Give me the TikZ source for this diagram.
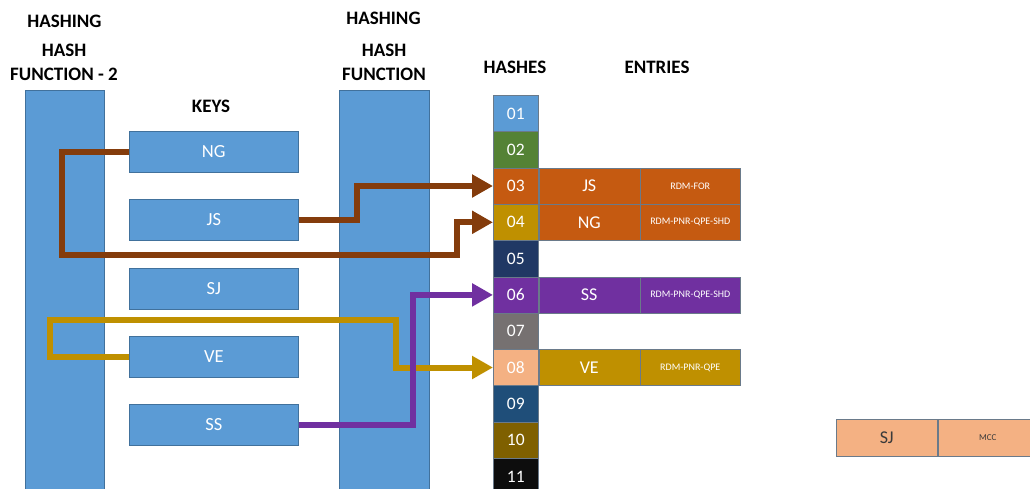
\documentclass[tikz,border=0pt]{standalone}
\usepackage{fontspec}
\setmainfont{Carlito}
\usetikzlibrary{arrows.meta}

\definecolor{boxblue}{HTML}{5B9BD5}
\definecolor{edgeblue}{HTML}{41719C}
\definecolor{cellgreen}{HTML}{548235}
\definecolor{cellorange}{HTML}{C55A11}
\definecolor{cellgold}{HTML}{BF9000}
\definecolor{cellnavy}{HTML}{203864}
\definecolor{cellpurple}{HTML}{7030A0}
\definecolor{cellgray}{HTML}{767171}
\definecolor{cellpeach}{HTML}{F4B183}
\definecolor{cellsteel}{HTML}{1F4E79}
\definecolor{cellolive}{HTML}{7F6000}
\definecolor{cellblack}{HTML}{0D0D0D}
\definecolor{linkbrown}{HTML}{843C0C}
\definecolor{gridline}{HTML}{6A7A8A}
\definecolor{darktext}{HTML}{3A3A3A}

\tikzset{
  title/.style={font=\fontsize{19}{22}\selectfont\bfseries, anchor=base, inner sep=0pt},
  column/.style={draw=edgeblue, line width=0.6pt, fill=boxblue, anchor=north west,
    inner sep=0pt, minimum width=#1},
  keybox/.style={draw=edgeblue, line width=0.6pt, fill=boxblue, anchor=north west,
    inner sep=0pt, minimum width=169pt, minimum height=41pt, text=white,
    font=\fontsize{18.5}{20}\selectfont},
  hcell/.style={draw=gridline, line width=0.5pt, fill=#1, anchor=north west,
    inner sep=0pt, minimum width=45pt, minimum height=36.3pt, text=white,
    font=\fontsize{17.5}{19}\selectfont},
  ecell/.style={draw=gridline, line width=0.5pt, fill=#1, anchor=north west,
    inner sep=0pt, minimum width=101pt, minimum height=36.3pt, text=white,
    font=\fontsize{18}{20}\selectfont},
  einfo/.style={draw=gridline, line width=0.5pt, fill=#1, anchor=north west,
    inner sep=0pt, minimum width=100pt, minimum height=36.3pt, text=white,
    font=\fontsize{10}{12}\selectfont},
  link/.style={line width=6pt, draw=#1, line join=miter,
    -{Triangle[length=21pt,width=22pt]}},
}

\begin{document}
\begin{tikzpicture}[x=1pt, y=-1pt]
\useasboundingbox (0,0) rectangle (1030,488);
\clip (0,0) rectangle (1030,488);

% column titles
\node[title] (t1a) at (64.5,27) {HASHING};
\node[title] (t1b) at (64,56.6) {HASH};
\node[title] (t1c) at (64,80.6) {FUNCTION - 2};
\node[title] (t2a) at (383.5,24) {HASHING};
\node[title] (t2b) at (384,56.6) {HASH};
\node[title] (t2c) at (384,80.6) {FUNCTION};
\node[title] (tkeys) at (211,112) {KEYS};
\node[title] (thash) at (515,73.3) {HASHES};
\node[title] (tent) at (657,73.3) {ENTRIES};

% hash function bars
\node[column=79pt, minimum height=410pt] (hf2) at (25,90) {};
\node[column=90pt, minimum height=410pt] (hf1) at (339,90) {};

% keys
\node[keybox] (ng) at (129,131) {NG};
\node[keybox] (js) at (129,199) {JS};
\node[keybox] (sj) at (129,268) {SJ};
\node[keybox] (ve) at (129,336) {VE};
\node[keybox] (ss) at (129,404) {SS};

% hash table
\node[hcell=boxblue]    (h01) at (493,95)    {01};
\node[hcell=cellgreen]  (h02) at (493,131.3) {02};
\node[hcell=cellorange] (h03) at (493,167.6) {03};
\node[hcell=cellgold]   (h04) at (493,203.9) {04};
\node[hcell=cellnavy]   (h05) at (493,240.2) {05};
\node[hcell=cellpurple] (h06) at (493,276.5) {06};
\node[hcell=cellgray]   (h07) at (493,312.8) {07};
\node[hcell=cellpeach]  (h08) at (493,349.1) {08};
\node[hcell=cellsteel]  (h09) at (493,385.4) {09};
\node[hcell=cellolive]  (h10) at (493,421.7) {10};
\node[hcell=cellblack]  (h11) at (493,458)   {11};

% entries
\node[ecell=cellorange] (e03) at (h03.north east) {JS};
\node[einfo=cellorange] (i03) at (e03.north east) {RDM-FOR};
\node[ecell=cellorange] (e04) at (h04.north east) {NG};
\node[einfo=cellorange] (i04) at (e04.north east) {RDM-PNR-QPE-SHD};
\node[ecell=cellpurple] (e06) at (h06.north east) {SS};
\node[einfo=cellpurple] (i06) at (e06.north east) {RDM-PNR-QPE-SHD};
\node[ecell=cellgold]   (e08) at (h08.north east) {VE};
\node[einfo=cellgold]   (i08) at (e08.north east) {RDM-PNR-QPE};

% overflow entry
\node[ecell=cellpeach, text=darktext, minimum height=37pt] (esj) at (836,419) {SJ};
\node[einfo=cellpeach, text=darktext, minimum height=37pt,
      font=\fontsize{9}{11}\selectfont] (isj) at (esj.north east) {MCC};

% bend points of the links
\coordinate (bNGa) at (62,0);
\coordinate (bNGb) at (457,255);
\coordinate (bJS)  at (357,0);
\coordinate (bVEa) at (50,320);
\coordinate (bVEb) at (396,0);
\coordinate (bSS)  at (413,0);

% links from keys to hashes
\draw[link=linkbrown] (ng.west) -| (bNGa |- bNGb) -| (bNGb |- h04.west) -- (h04.west);
\draw[link=linkbrown] (js.east) -| (bJS |- h03.west) -- (h03.west);
\draw[link=cellgold]  (ve.west) -| (bVEa) -| (bVEb |- h08.west) -- (h08.west);
\draw[link=cellpurple] (ss.east) -| (bSS |- h06.west) -- (h06.west);
\end{tikzpicture}
\end{document}
